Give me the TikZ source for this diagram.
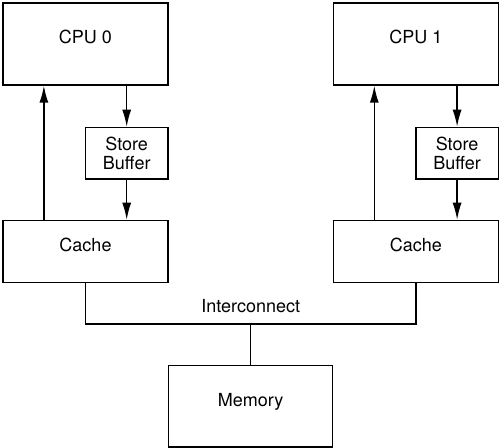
\documentclass[tikz,border=0pt]{standalone}
\usepackage{fontspec}
\setmainfont{TeX Gyre Heros}
\usetikzlibrary{positioning, calc, arrows.meta}

\begin{document}
\begin{tikzpicture}[>={Latex[length=8.5pt, width=4.5pt]}, line width=0.7pt, font=\fontsize{9}{9.7}\selectfont,
    unit/.style={draw, inner sep=0pt, minimum width=82.5pt, text height=6pt, text depth=6pt},
    buffer/.style={draw, inner sep=0pt, minimum width=41.3pt, minimum height=25.8pt, align=center}]

    \useasboundingbox (0,0) rectangle (251pt,-224pt);

    \node[unit, minimum height=41pt, anchor=north west] (cpu0) at (1.15pt,-1.15pt) {CPU 0};
    \node[buffer, below = 20.5pt of cpu0.south east, anchor=north east] (sb0) {Store\\Buffer};
    \node[unit, minimum height=31pt, below = 67pt of cpu0] (cache0) {Cache};

    \node[unit, minimum height=41pt, right = 82pt of cpu0] (cpu1) {CPU 1};
    \node[buffer, below = 20.5pt of cpu1.south east, anchor=north east] (sb1) {Store\\Buffer};
    \node[unit, minimum height=31pt, below = 67pt of cpu1] (cache1) {Cache};

    \coordinate (ic) at ($($(cache0.south)!0.5!(cache1.south)$) + (0,-20.35pt)$);
    \node[unit, minimum width=82pt, minimum height=40.8pt, below = 20.5pt of ic] (memory) {Memory};
    \node[above = 5pt of ic, inner sep=0pt] (ic-label) {Interconnect};

    \coordinate (up0) at ($(cache0.north west)!0.25!(cache0.north east)$);
    \coordinate (up1) at ($(cache1.north west)!0.25!(cache1.north east)$);

    \draw[->] (up0) -- (up0 |- cpu0.south);
    \draw[->] (cpu0.south -| sb0) -- (sb0);
    \draw[->] (sb0) -- (sb0 |- cache0.north);

    \draw[->] (up1) -- (up1 |- cpu1.south);
    \draw[->] (cpu1.south -| sb1) -- (sb1);
    \draw[->] (sb1) -- (sb1 |- cache1.north);

    \draw (cache0.south) -- (cache0.south |- ic) -- (cache1.south |- ic) -- (cache1.south);
    \draw (ic) -- (memory);

\end{tikzpicture}
\end{document}
